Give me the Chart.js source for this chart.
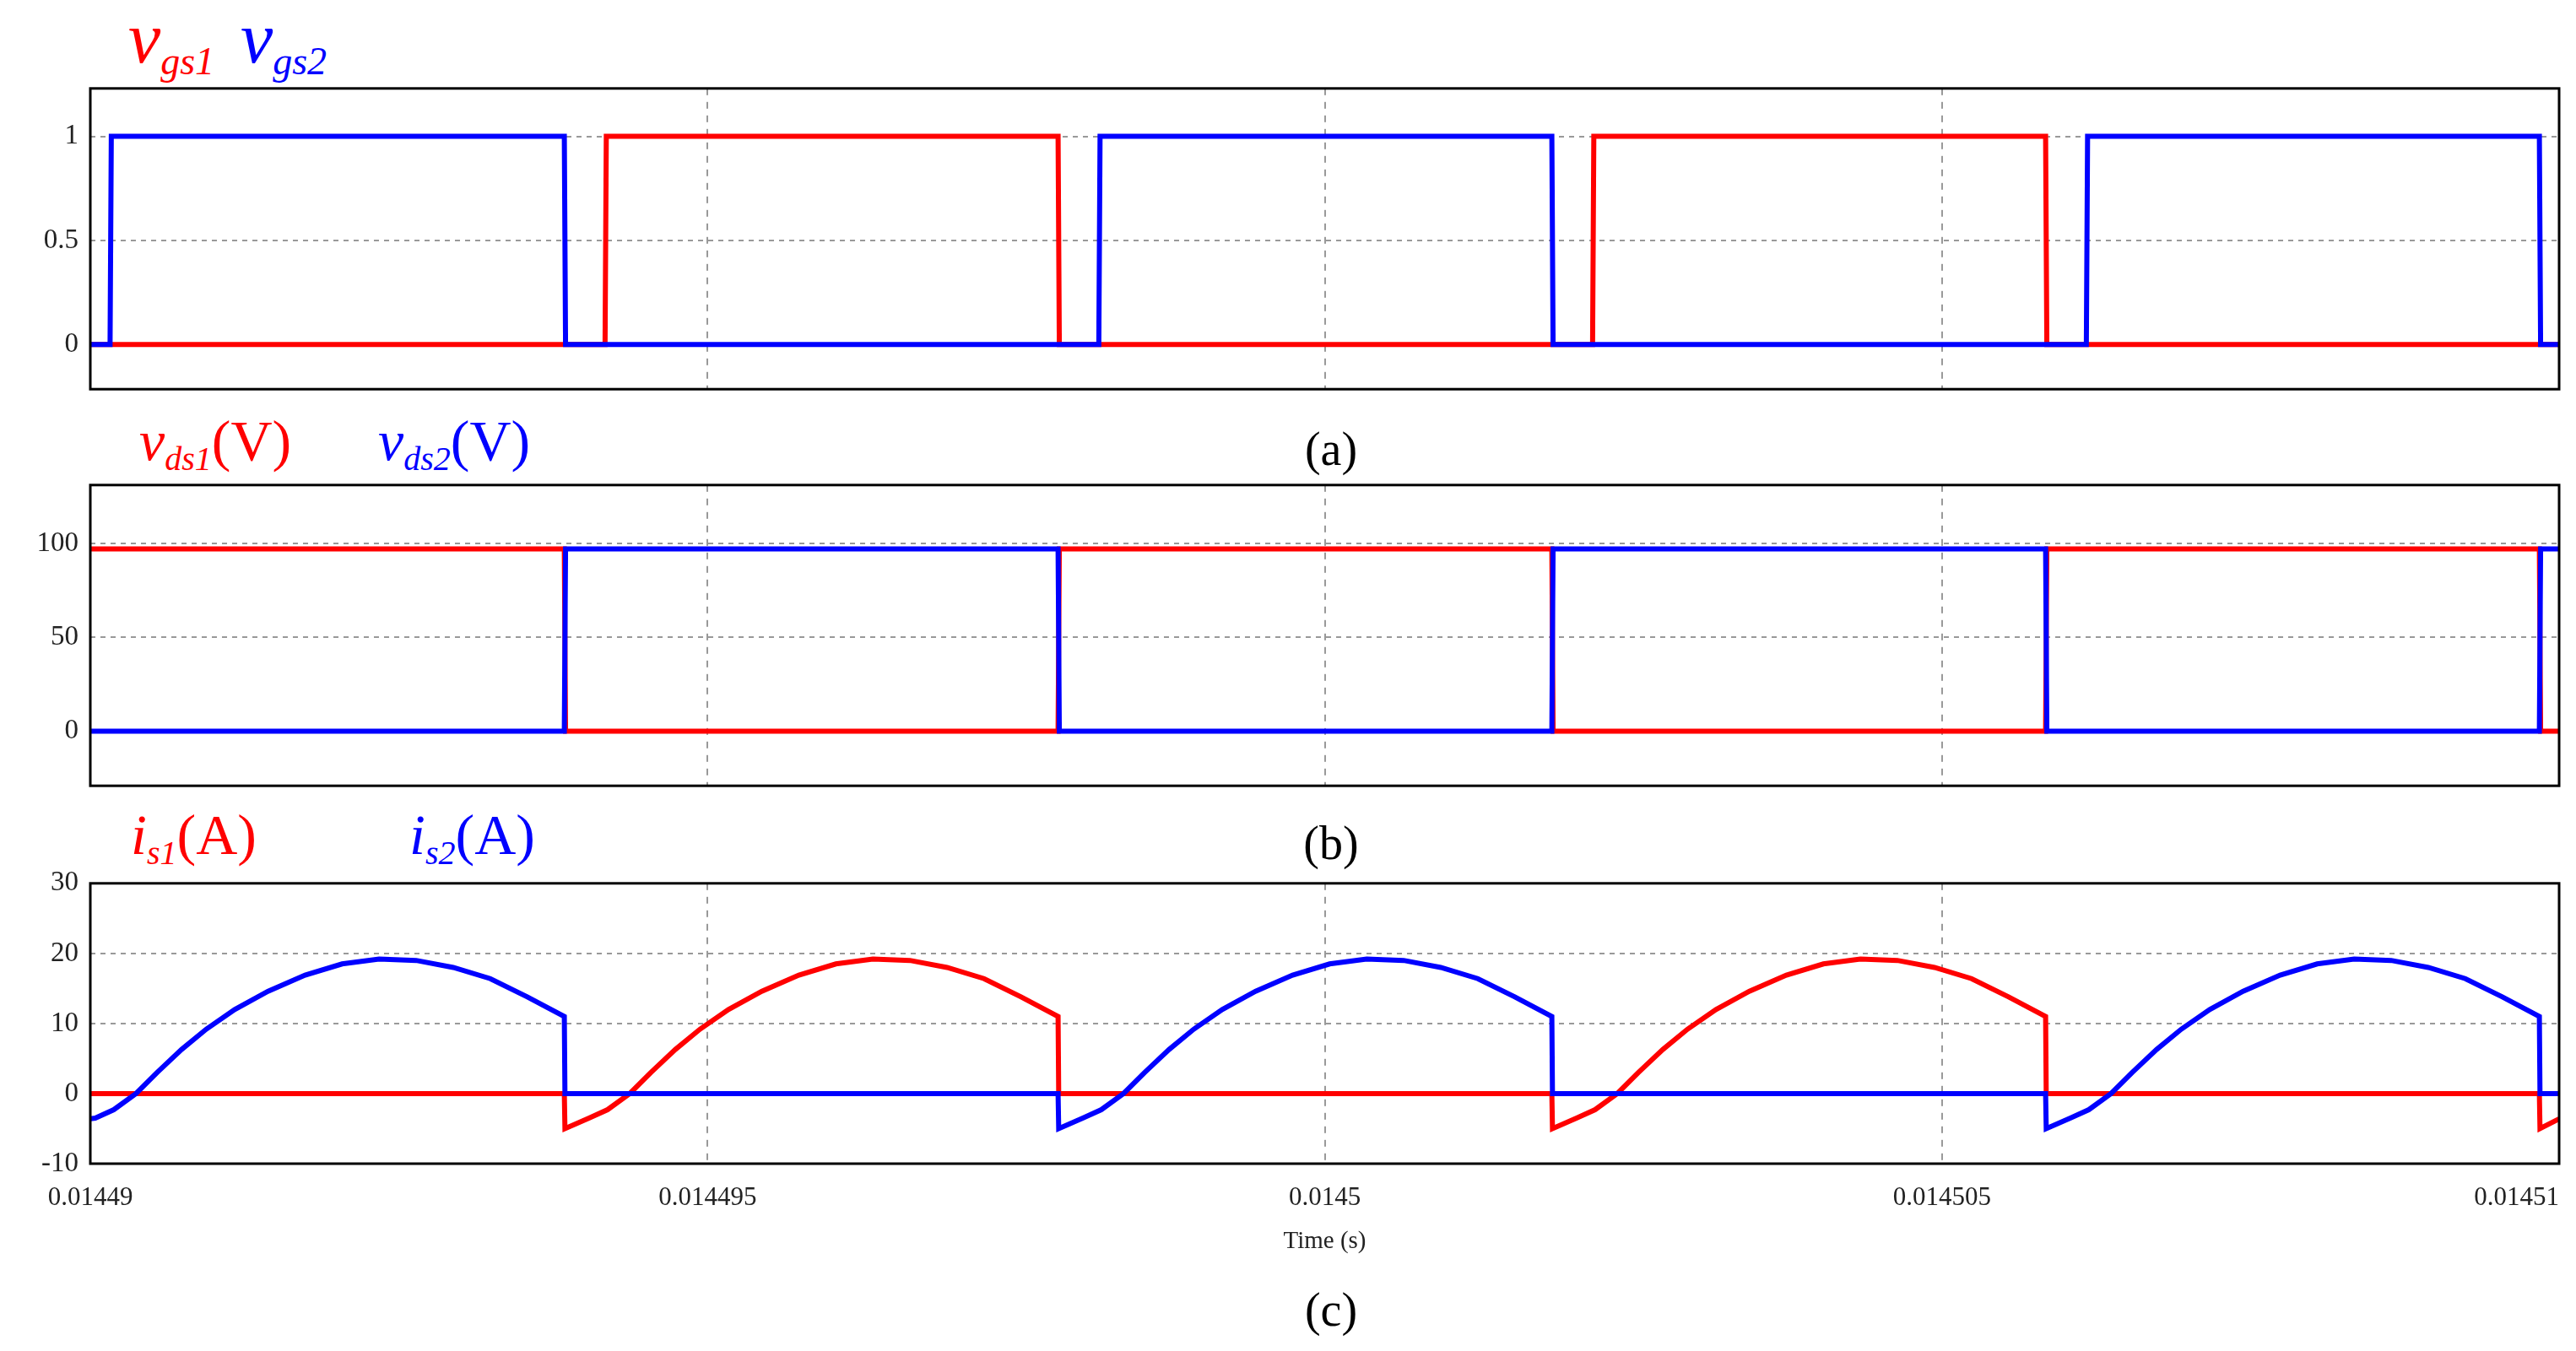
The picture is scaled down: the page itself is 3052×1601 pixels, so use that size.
<!DOCTYPE html>
<html><head><meta charset="utf-8">
<script src="https://cdn.jsdelivr.net/npm/chart.js@4"></script>
<style>
body{margin:0;background:#fff;width:3052px;height:1601px;overflow:hidden;position:relative;font-family:"Liberation Serif",serif}
canvas{position:absolute;left:0}
.t{position:absolute;white-space:nowrap;font-family:"Liberation Serif",serif;line-height:1}
.r{color:#f00}.b{color:#00f}
.v{font-style:italic}
sub{font-style:italic;vertical-align:baseline;position:relative;top:0.3em}
.lab{position:absolute;font-family:"Liberation Serif",serif;font-size:56px;transform:translateX(-50%)}
</style></head><body>
<div class="t r" style="left:152px;top:2px;font-size:86px"><span class="v">v</span><sub style="font-size:46px">gs1</sub></div>
<div class="t b" style="left:285px;top:2px;font-size:86px"><span class="v">v</span><sub style="font-size:46px">gs2</sub></div>
<div class="t r" style="left:165px;top:488px;font-size:68px"><span class="v">v</span><sub style="font-size:40px">ds1</sub>(V)</div>
<div class="t b" style="left:448px;top:488px;font-size:68px"><span class="v">v</span><sub style="font-size:40px">ds2</sub>(V)</div>
<div class="t r" style="left:155px;top:955px;font-size:68px"><span class="v">i</span><sub style="font-size:40px">s1</sub>(A)</div>
<div class="t b" style="left:485px;top:955px;font-size:68px"><span class="v">i</span><sub style="font-size:40px">s2</sub>(A)</div>
<div class="lab" style="left:1577px;top:500px">(a)</div>
<div class="lab" style="left:1577px;top:967px">(b)</div>
<div class="lab" style="left:1577px;top:1520px">(c)</div>
<canvas id="ca" width="3052" height="424" style="top:71px"></canvas>
<canvas id="cb" width="3052" height="424" style="top:541px"></canvas>
<canvas id="cc" width="3052" height="476" style="top:1013px"></canvas>
<script>
const T0 = 0.01449;
const xTickValues = [0.01449, 0.014495, 0.0145, 0.014505, 0.01451];
const xTickLabels = ["0.01449", "0.014495", "0.0145", "0.014505", "0.01451             "];
// times in microseconds after 0.01449 s
const vgs1_t = [0,4.17,4.18,7.84,7.85,12.17,12.18,15.84,15.85,20];
const vgs1_v = [0,0,1,1,0,0,1,1,0,0];
const vgs2_t = [0,0.16,0.17,3.84,3.85,8.17,8.18,11.84,11.85,16.17,16.18,19.84,19.85,20];
const vgs2_v = [0,0,1,1,0,0,1,1,0,0,1,1,0,0];
const vds1_t = [0,3.84,3.85,7.84,7.85,11.84,11.85,15.84,15.85,19.84,19.85,20];
const vds1_v = [97,97,0,0,97,97,0,0,97,97,0,0];
const vds2_t = [0,3.84,3.85,7.84,7.85,11.84,11.85,15.84,15.85,19.84,19.85,20];
const vds2_v = [0,0,97,97,0,0,97,97,0,0,97,97];
const is1_t = [0,3.84,3.845,4.04,4.19,4.37,4.54,4.74,4.94,5.17,5.44,5.74,6.04,6.34,6.64,6.94,7.24,7.54,7.84,7.845,
  11.84,11.845,12.04,12.19,12.37,12.54,12.74,12.94,13.17,13.44,13.74,14.04,14.34,14.64,14.94,15.24,15.54,15.84,15.845,
  19.84,19.845,20];
const is1_v = [0,0,-5,-3.5,-2.3,0,3,6.3,9.2,12,14.6,16.9,18.5,19.2,19,18,16.4,13.8,11,0,
  0,-5,-3.5,-2.3,0,3,6.3,9.2,12,14.6,16.9,18.5,19.2,19,18,16.4,13.8,11,0,
  0,-5,-3.6];
const is2_t = [0,0.04,0.19,0.37,0.54,0.74,0.94,1.17,1.44,1.74,2.04,2.34,2.64,2.94,3.24,3.54,3.84,3.845,
  7.84,7.845,8.04,8.19,8.37,8.54,8.74,8.94,9.17,9.44,9.74,10.04,10.34,10.64,10.94,11.24,11.54,11.84,11.845,
  15.84,15.845,16.04,16.19,16.37,16.54,16.74,16.94,17.17,17.44,17.74,18.04,18.34,18.64,18.94,19.24,19.54,19.84,19.845,20];
const is2_v = [-3.6,-3.5,-2.3,0,3,6.3,9.2,12,14.6,16.9,18.5,19.2,19,18,16.4,13.8,11,0,
  0,-5,-3.5,-2.3,0,3,6.3,9.2,12,14.6,16.9,18.5,19.2,19,18,16.4,13.8,11,0,
  0,-5,-3.5,-2.3,0,3,6.3,9.2,12,14.6,16.9,18.5,19.2,19,18,16.4,13.8,11,0,0];
const yA = [0,0.5,1], yB = [0,50,100], yC = [-10,0,10,20,30];
const yALabels = ["0","0.5","1"], yBLabels = ["0","50","100"], yCLabels = ["-10","0","10","20","30"];

const pts = (t,v)=>t.map((x,i)=>({x:T0+x*1e-6,y:v[i]}));
const frame = {id:'frame',afterDraw(c){const a=c.chartArea,g=c.ctx;g.save();g.strokeStyle='#000';g.lineWidth=3;g.strokeRect(a.left,a.top,a.right-a.left,a.bottom-a.top);g.restore();}};
function mk(id,red,blue,ymin,ymax,yt,yl,showX){
  const ds = {borderWidth:6,pointRadius:0,tension:0};
  new Chart(document.getElementById(id),{type:'line',
    data:{datasets:[
      Object.assign({data:blue,borderColor:'#0000ff',order:0},ds),
      Object.assign({data:red,borderColor:'#ff0000',order:1},ds)]},
    options:{responsive:false,animation:false,events:[],
      layout:{padding:{left:0,right:20,top:10,bottom:showX?0:10}},
      plugins:{legend:{display:false},tooltip:{enabled:false}},
      scales:{
        x:{type:'linear',min:T0,max:0.01451,
          afterBuildTicks(s){s.ticks=xTickValues.map(v=>({value:v}));},
          afterFit(s){s.paddingRight=0;},
          ticks:{display:showX,autoSkip:false,maxRotation:0,color:'#222',font:{family:'Liberation Serif',size:31},padding:22,
            callback:(v,i)=>xTickLabels[i]},
          title:{display:showX,text:'Time (s)',color:'#222',font:{family:'Liberation Serif',size:29},padding:{top:-6,bottom:0}},
          grid:{color:(c)=>(c.index===0||c.index===4)?'rgba(0,0,0,0)':'#999',lineWidth:2,drawTicks:false},
          border:{display:false,dash:[8,8]}},
        y:{min:ymin,max:ymax,afterFit(s){s.width=107;},
          afterBuildTicks(s){s.ticks=yt.map(v=>({value:v}));},
          ticks:{color:'#222',font:{family:'Liberation Serif',size:33},padding:14,callback:(v,i)=>yl[i]},
          grid:{color:'#999',lineWidth:2,drawTicks:false},
          border:{display:false,dash:[6,6]}}
      }},plugins:[frame]});
}
Chart.defaults.elements.line.borderJoinStyle='miter';
mk('ca',pts(vgs1_t,vgs1_v),pts(vgs2_t,vgs2_v),-0.215,1.23,yA,yALabels,false);
mk('cb',pts(vds1_t,vds1_v),pts(vds2_t,vds2_v),-29,131,yB,yBLabels,false);
mk('cc',pts(is1_t,is1_v),pts(is2_t,is2_v),-10,30,yC,yCLabels,true);
</script></body></html>
